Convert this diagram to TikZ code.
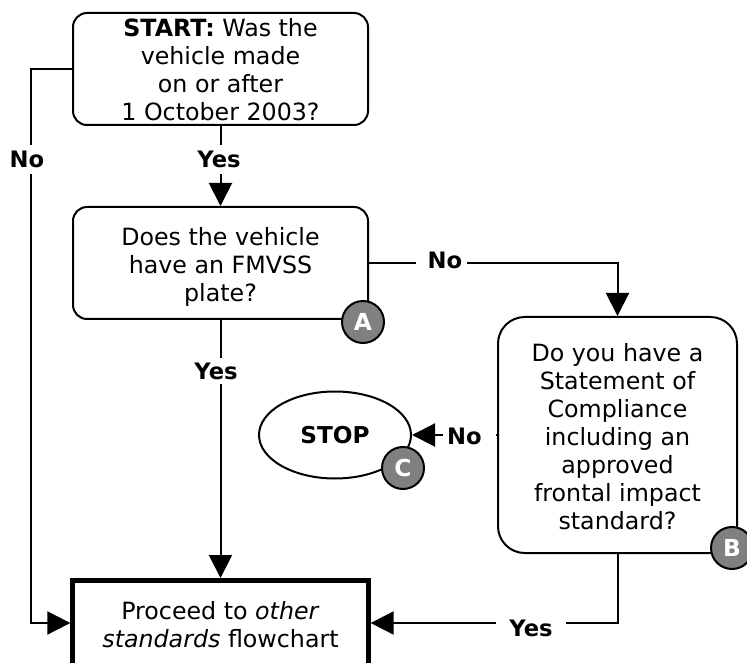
\documentclass[tikz,border=0pt]{standalone}
\usepackage{fontspec}
\setmainfont{DejaVu Sans}
\usetikzlibrary{shapes.geometric,arrows.meta}
\newcommand{\tsh}[1]{\rule{0pt}{#1}}
\tikzset{
  x=0.75pt,y=-0.75pt,
  txt/.style={font=\fontsize{17.8pt}{21pt}\selectfont,align=center,text=black},
  qbox/.style={draw,line width=1.5pt,rounded corners=10.5pt,minimum width=221.25pt,minimum height=84pt,inner sep=0pt,txt},
  tallbox/.style={draw,line width=1.5pt,rounded corners=20pt,minimum width=179.25pt,minimum height=177pt,inner sep=0pt,txt},
  finalbox/.style={draw,line width=3.75pt,minimum width=221.5pt,minimum height=63.75pt,inner sep=0pt,txt},
  stopshape/.style={draw,ellipse,line width=1.5pt,minimum width=114pt,minimum height=65.25pt,inner sep=0pt,font=\fontsize{17.4pt}{15pt}\selectfont\bfseries},
  badge/.style={circle,draw,line width=1.5pt,fill=black!50,text=white,minimum size=31.5pt,inner sep=0pt,font=\fontsize{17.5pt}{15pt}\selectfont\bfseries},
  conn/.style={line width=1.5pt},
  arr/.style={conn,-{Triangle[length=17.25pt,width=17.25pt]}},
  lab/.style={fill=white,inner xsep=0pt,inner ysep=0pt,font=\fontsize{17pt}{15pt}\selectfont\bfseries},
}
\begin{document}
\begin{tikzpicture}
\useasboundingbox (0,0) rectangle (747,663);
\clip (0,0) rectangle (747,663);
\node[qbox] (start) at (220.5,69) {\tsh{15pt}\textbf{START:} Was the\\vehicle made\\on or after\\1 October 2003?};
\node[qbox] (plate) at (220.5,263) {\tsh{19.5pt}Does the vehicle\\have an FMVSS\\plate?};
\node[tallbox] (soc) at (617.5,435) {\tsh{15.8pt}Do you have a\\Statement of\\Compliance\\including an\\approved\\frontal impact\\standard?};
\node[stopshape] (stop) at (335,435) {STOP};
\node[finalbox] (final) at (220.5,623) {\tsh{16.5pt}Proceed to \textit{other}\\\textit{standards} flowchart};
\draw[arr] (start.west) -- ++(-41,0) coordinate (bend) |- (final.west);
\draw[arr] (start.south) -- (plate.north);
\draw[arr] (plate.south) -- (final.north);
\draw[arr] (plate.east) -| (soc.north);
\draw[arr] (soc.west) -- (stop.east);
\draw[arr] (soc.south) |- (final.east);
\node[lab,minimum height=21.5pt,inner xsep=2pt] (l1) at (27,159.5) {No};
\node[lab,minimum height=21.5pt,inner xsep=2pt] (l2) at (219,159.5) {Yes};
\node[lab,minimum height=16pt] (l3) at (441.5,260) {\hspace*{9pt}No\hspace*{4pt}};
\node[lab,minimum height=19.5pt] (l4) at (216,371) {Yes};
\node[lab,minimum height=16pt] (l5) at (469.5,436) {\hspace*{3pt}No\hspace*{10.5pt}};
\node[lab,minimum height=16pt,inner xsep=10pt] (l6) at (531,628) {Yes};
\node[badge] (ba) at (363,322) {A};
\node[badge] (bb) at (732,548) {B};
\node[badge] (bc) at (403,468) {C};
\end{tikzpicture}
\end{document}
